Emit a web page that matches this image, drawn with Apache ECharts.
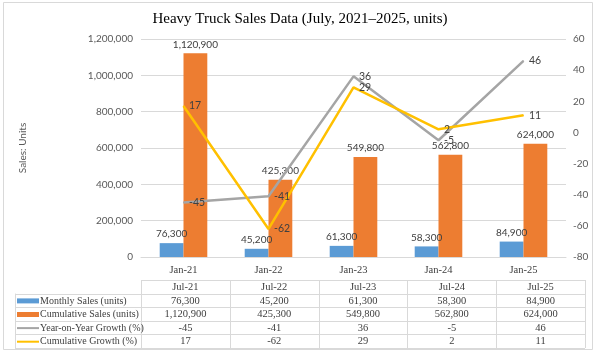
<!DOCTYPE html>
<html>
<head>
<meta charset="utf-8">
<script src="https://cdn.jsdelivr.net/npm/echarts@6/dist/echarts.min.js"></script>
<style>html,body{margin:0;padding:0;background:#fff}#c{width:600px;height:361px}</style>
</head>
<body>
<div id="c"></div>
<script>
var categories = ['Jan-21', 'Jan-22', 'Jan-23', 'Jan-24', 'Jan-25'];
var tableHeaders = ['Jul-21', 'Jul-22', 'Jul-23', 'Jul-24', 'Jul-25'];
var monthlySales = [76300, 45200, 61300, 58300, 84900];
var cumulativeSales = [1120900, 425300, 549800, 562800, 624000];
var yoyGrowth = [-45, -41, 36, -5, 46];
var cumulativeGrowth = [17, -62, 29, 2, 11];
var seriesNames = ['Monthly Sales (units)', 'Cumulative Sales (units)', 'Year-on-Year Growth (%)', 'Cumulative Growth (%)'];
var colors = ['#5B9BD5', '#ED7D31', '#A5A5A5', '#FFC000'];

var sans = 'Lato, "Liberation Sans", sans-serif';
var serif = '"Liberation Serif", "Times New Roman", serif';
var fmt = function (v) { return Number(v).toLocaleString('en-US'); };

var chart = echarts.init(document.getElementById('c'), null, { renderer: 'canvas' });

// table layout
var T = { left: 15, keyCol: 141, right: 585, headTop: 280, rowH: 13.6 };
var rows = [monthlySales, cumulativeSales, yoyGrowth, cumulativeGrowth];
var colW = (T.right - T.keyCol) / tableHeaders.length;
var gridColor = '#D9D9D9';
var tFont = '10.5px ' + serif;
var kFont = '10px ' + serif;
var els = [];
els.push({ type: 'rect', shape: { x: 3.5, y: 2.5, width: 589, height: 347 }, style: { fill: null, stroke: '#D9D9D9', lineWidth: 1 }, z: 0 });
var dataTop = T.headTop + T.rowH;
var bottom = dataTop + T.rowH * rows.length;
els.push({ type: 'line', shape: { x1: T.keyCol, y1: T.headTop + 0.5, x2: T.right, y2: T.headTop + 0.5 }, style: { stroke: gridColor, lineWidth: 1 } });
for (var r = 0; r <= rows.length; r++) {
  var yy = Math.round(dataTop + r * T.rowH) + 0.5;
  els.push({ type: 'line', shape: { x1: T.left, y1: yy, x2: T.right, y2: yy }, style: { stroke: gridColor, lineWidth: 1 } });
}
els.push({ type: 'line', shape: { x1: T.left + 0.5, y1: dataTop, x2: T.left + 0.5, y2: bottom }, style: { stroke: gridColor, lineWidth: 1 } });
for (var c = 0; c <= tableHeaders.length; c++) {
  var xx = Math.round(T.keyCol + c * colW) + 0.5;
  els.push({ type: 'line', shape: { x1: xx, y1: T.headTop, x2: xx, y2: bottom }, style: { stroke: gridColor, lineWidth: 1 } });
}
tableHeaders.forEach(function (h, i) {
  els.push({ type: 'text', x: T.keyCol + colW * (i + 0.5), y: T.headTop + T.rowH / 2 + 0.5, style: { text: h, font: tFont, fill: '#404040', align: 'center', verticalAlign: 'middle' } });
});
rows.forEach(function (arr, r) {
  var cy = dataTop + T.rowH * (r + 0.5) + 0.5;
  if (r < 2) {
    els.push({ type: 'rect', shape: { x: 17, y: cy - 2.5, width: 22, height: 5 }, style: { fill: colors[r] } });
  } else {
    els.push({ type: 'line', shape: { x1: 17, y1: cy, x2: 39, y2: cy }, style: { stroke: colors[r], lineWidth: 2 } });
  }
  els.push({ type: 'text', x: 40, y: cy, style: { text: seriesNames[r], font: kFont, fill: '#404040', align: 'left', verticalAlign: 'middle' } });
  arr.forEach(function (v, i) {
    els.push({ type: 'text', x: T.keyCol + colW * (i + 0.5), y: cy, style: { text: fmt(v), font: tFont, fill: '#404040', align: 'center', verticalAlign: 'middle' } });
  });
});

var lineLabel = { show: true, position: 'right', distance: 5, fontFamily: sans, fontSize: 10.5, color: '#404040' };

var option = {
  animation: false,
  backgroundColor: '#fff',
  title: {
    text: 'Heavy Truck Sales Data (July, 2021\u20132025, units)',
    left: 'center', top: 7,
    textStyle: { fontFamily: serif, fontSize: 15, fontWeight: 'normal', color: '#000' }
  },
  grid: { left: 141, right: 34, top: 39, bottom: 104, containLabel: false },
  xAxis: {
    type: 'category', data: categories,
    axisLine: { lineStyle: { color: '#D9D9D9' } },
    axisTick: { show: false },
    axisLabel: { fontFamily: serif, fontSize: 10.5, color: '#404040', margin: 8 }
  },
  yAxis: [
    {
      type: 'value', min: 0, max: 1200000, interval: 200000,
      name: 'Sales: Units', nameLocation: 'middle', nameGap: 113, nameRotate: 90,
      nameTextStyle: { fontFamily: sans, fontSize: 10, color: '#595959' },
      axisLine: { show: false }, axisTick: { show: false },
      axisLabel: { fontFamily: sans, fontSize: 10, color: '#595959', margin: 8, formatter: function (v) { return fmt(v); } },
      splitLine: { lineStyle: { color: '#D9D9D9' } }
    },
    {
      type: 'value', min: -80, max: 60, interval: 20, position: 'right',
      axisLine: { show: false }, axisTick: { show: false },
      axisLabel: { fontFamily: sans, fontSize: 10, color: '#595959', margin: 7 },
      splitLine: { show: false }
    }
  ],
  series: [
    {
      name: seriesNames[0], type: 'bar', data: monthlySales, barWidth: '28%', barGap: '0%',
      itemStyle: { color: colors[0] },
      label: { show: true, position: 'top', distance: 4, fontFamily: sans, fontSize: 10, color: '#404040', formatter: function (p) { return fmt(p.value); } }
    },
    {
      name: seriesNames[1], type: 'bar', data: cumulativeSales, barWidth: '28%', barGap: '0%',
      itemStyle: { color: colors[1] },
      label: { show: true, position: 'top', distance: 4, fontFamily: sans, fontSize: 10, color: '#404040', formatter: function (p) { return fmt(p.value); } }
    },
    {
      name: seriesNames[2], type: 'line', yAxisIndex: 1, data: yoyGrowth, showSymbol: true, symbol: 'circle', symbolSize: 1,
      lineStyle: { color: colors[2], width: 2.5 }, itemStyle: { color: colors[2] },
      label: lineLabel
    },
    {
      name: seriesNames[3], type: 'line', yAxisIndex: 1, data: cumulativeGrowth, showSymbol: true, symbol: 'circle', symbolSize: 1,
      lineStyle: { color: colors[3], width: 2.5 }, itemStyle: { color: colors[3] },
      label: lineLabel
    }
  ],
  graphic: { elements: els }
};
chart.setOption(option);
</script>
</body>
</html>
